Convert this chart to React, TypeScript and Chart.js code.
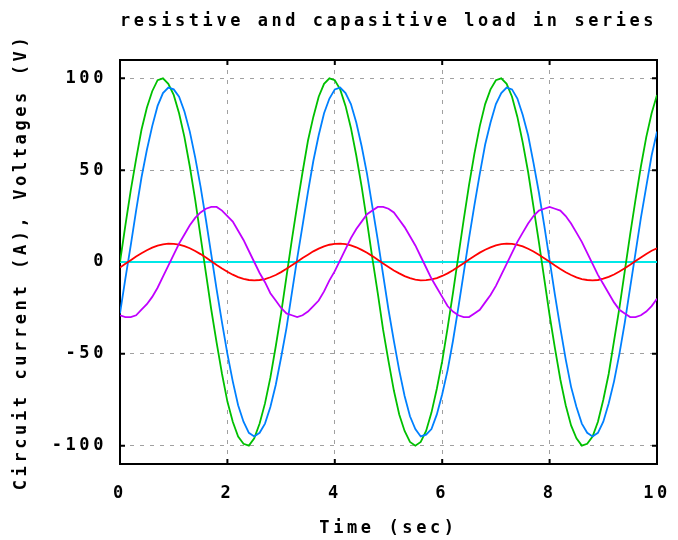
import React, { useEffect, useRef } from "react";
import { Chart, registerables } from "chart.js";

Chart.register(...registerables);

const titleText = "resistive and capasitive load in series";
const xTitle = "Time (sec)";
const yTitle = "Circuit current (A), Voltages (V)";

const xTicks = [0, 2, 4, 6, 8, 10];
const yTicks = [-100, -50, 0, 50, 100];

const times = [
  0, 0.1, 0.2, 0.3, 0.4, 0.5, 0.6, 0.7, 0.8, 0.9,
  1, 1.1, 1.2, 1.3, 1.4, 1.5, 1.6, 1.7, 1.8, 1.9,
  2, 2.1, 2.2, 2.3, 2.4, 2.5, 2.6, 2.7, 2.8, 2.9,
  3, 3.1, 3.2, 3.3, 3.4, 3.5, 3.6, 3.7, 3.8, 3.9,
  4, 4.1, 4.2, 4.3, 4.4, 4.5, 4.6, 4.7, 4.8, 4.9,
  5, 5.1, 5.2, 5.3, 5.4, 5.5, 5.6, 5.7, 5.8, 5.9,
  6, 6.1, 6.2, 6.3, 6.4, 6.5, 6.6, 6.7, 6.8, 6.9,
  7, 7.1, 7.2, 7.3, 7.4, 7.5, 7.6, 7.7, 7.8, 7.9,
  8, 8.1, 8.2, 8.3, 8.4, 8.5, 8.6, 8.7, 8.8, 8.9,
  9, 9.1, 9.2, 9.3, 9.4, 9.5, 9.6, 9.7, 9.8, 9.9,
  10,
];

// source voltage (green)
const sourceVoltage = [
  0, 20, 39, 56, 72, 84, 93, 99, 100, 97,
  91, 81, 68, 52, 34, 14, -6, -26, -44, -61,
  -76, -87, -95, -99, -100, -96, -88, -77, -63, -46,
  -28, -8, 12, 31, 49, 66, 79, 90, 97, 100,
  99, 94, 85, 73, 58, 41, 22, 2, -17, -37,
  -54, -70, -83, -92, -98, -100, -98, -92, -82, -69,
  -54, -36, -17, 3, 23, 42, 59, 74, 86, 94,
  99, 100, 97, 90, 79, 65, 49, 30, 11, -9,
  -29, -47, -64, -78, -89, -96, -100, -99, -95, -87,
  -75, -61, -43, -25, -5, 15, 34, 52, 68, 81,
  91,
];

// resistor voltage (blue)
const resistorVoltage = [
  -28, -9, 9, 28, 46, 61, 74, 85, 92, 95,
  94, 90, 82, 71, 57, 41, 23, 4, -15, -33,
  -50, -65, -78, -87, -93, -95, -93, -88, -79, -67,
  -52, -36, -17, 2, 20, 38, 55, 69, 81, 89,
  94, 95, 92, 86, 76, 63, 48, 30, 12, -7,
  -26, -43, -59, -73, -84, -91, -95, -94, -91, -83,
  -72, -59, -43, -25, -6, 13, 31, 48, 64, 76,
  86, 92, 95, 94, 89, 80, 69, 54, 38, 20,
  1, -18, -36, -53, -68, -79, -88, -93, -95, -93,
  -87, -77, -65, -50, -33, -14, 5, 24, 41, 58,
  71,
];

// capacitor voltage (magenta)
const capacitorVoltage = [
  -29, -30, -30, -29, -26, -23, -19, -14, -8, -2,
  4, 10, 15, 20, 24, 27, 29, 30, 30, 28,
  25, 22, 17, 12, 6, 0, -6, -11, -17, -21,
  -25, -28, -29, -30, -29, -27, -24, -21, -16, -10,
  -5, 1, 7, 13, 18, 22, 26, 28, 30, 30,
  29, 27, 23, 19, 14, 9, 3, -3, -9, -14,
  -19, -24, -27, -29, -30, -30, -28, -26, -22, -18,
  -13, -7, -1, 5, 11, 16, 21, 25, 28, 29,
  30, 29, 28, 25, 21, 16, 11, 5, -1, -7,
  -12, -17, -22, -26, -28, -30, -30, -29, -27, -24,
  -20,
];

// circuit current (red)
const circuitCurrent = [
  -3.0, -1.0, 1.0, 3.0, 4.8, 6.4, 7.8, 8.9, 9.6, 10.0,
  9.9, 9.5, 8.6, 7.5, 6.0, 4.3, 2.4, 0.4, -1.6, -3.5,
  -5.3, -6.9, -8.2, -9.2, -9.8, -10.0, -9.8, -9.3, -8.3, -7.1,
  -5.5, -3.7, -1.8, 0.2, 2.2, 4.0, 5.8, 7.3, 8.5, 9.4,
  9.9, 10.0, 9.7, 9.0, 8.0, 6.6, 5.0, 3.2, 1.2, -0.8,
  -2.7, -4.6, -6.2, -7.7, -8.8, -9.6, -10.0, -9.9, -9.5, -8.8,
  -7.6, -6.2, -4.5, -2.6, -0.7, 1.3, 3.3, 5.1, 6.7, 8.0,
  9.1, 9.7, 10.0, 9.9, 9.3, 8.5, 7.2, 5.7, 4.0, 2.1,
  0.1, -1.9, -3.8, -5.6, -7.1, -8.4, -9.3, -9.8, -10.0, -9.8,
  -9.1, -8.1, -6.8, -5.2, -3.4, -1.5, 0.5, 2.5, 4.4, 6.1,
  7.5,
];

// zero reference (cyan)
const zeroTimes = [0, 10];
const zeroLine = [0, 0];

const FONT = "'DejaVu Sans Mono', monospace";
const SPACING = "3.6px";

const spacingPlugin = {
  id: "spacing",
  beforeLayout(chart: any) {
    chart.ctx.letterSpacing = SPACING;
  },
  beforeDraw(chart: any) {
    chart.ctx.letterSpacing = SPACING;
  },
};

const framePlugin = {
  id: "frame",
  beforeDatasetsDraw(chart: any) {
    const { ctx, chartArea: a, scales } = chart;
    ctx.save();
    ctx.setLineDash([]);
    ctx.strokeStyle = "#000";
    ctx.lineWidth = 2;
    ctx.strokeRect(a.left, a.top, a.right - a.left, a.bottom - a.top);
    ctx.beginPath();
    const len = 5;
    xTicks.forEach((v) => {
      const px = scales.x.getPixelForValue(v);
      ctx.moveTo(px, a.bottom);
      ctx.lineTo(px, a.bottom - len);
      ctx.moveTo(px, a.top);
      ctx.lineTo(px, a.top + len);
    });
    yTicks.forEach((v) => {
      const py = scales.y.getPixelForValue(v);
      ctx.moveTo(a.left, py);
      ctx.lineTo(a.left + len, py);
      ctx.moveTo(a.right, py);
      ctx.lineTo(a.right - len, py);
    });
    ctx.stroke();
    ctx.restore();
  },
};

function pts(xs: number[], ys: number[]) {
  return xs.map((x, i) => ({ x, y: ys[i] }));
}

export default function App() {
  const ref = useRef<HTMLCanvasElement | null>(null);

  useEffect(() => {
    if (!ref.current) return;
    const line = (data: any[], color: string) => ({
      data,
      borderColor: color,
      backgroundColor: color,
      borderWidth: 1.8,
      pointRadius: 0,
      tension: 0,
      fill: false,
    });
    const font = { family: FONT, size: 17, weight: "bold" };
    const chart = new Chart(ref.current, {
      type: "line",
      data: {
        datasets: [
          line(pts(times, capacitorVoltage), "#c000ff"),
          line(pts(times, circuitCurrent), "#ff0000"),
          line(pts(times, resistorVoltage), "#0080ff"),
          line(pts(times, sourceVoltage), "#00c000"),
          line(pts(zeroTimes, zeroLine), "#00e8e8"),
        ],
      },
      options: {
        animation: false,
        responsive: false,
        events: [],
        layout: { padding: { left: 0, right: 21, top: 0, bottom: 0 } },
        plugins: {
          legend: { display: false },
          tooltip: { enabled: false },
          title: {
            display: true,
            text: titleText,
            fullSize: false,
            color: "#000",
            font,
            padding: { top: 11.8, bottom: 27.8 },
          },
        },
        scales: {
          x: {
            type: "linear",
            min: 0,
            max: 10,
            afterBuildTicks: (s: any) => {
              s.ticks = xTicks.map((v) => ({ value: v }));
            },
            afterFit: (s: any) => {
              s.height = 76;
              s.paddingLeft = 0;
              s.paddingRight = 0;
            },
            grid: { color: "#a0a0a0", lineWidth: 1, drawTicks: false },
            border: { display: false, dash: [4, 6] },
            ticks: {
              color: "#000",
              padding: 19.8,
              maxRotation: 0,
              font,
            },
            title: {
              display: true,
              text: xTitle,
              color: "#000",
              font,
              padding: { top: 0, bottom: 1 },
            },
          },
          y: {
            type: "linear",
            min: -110,
            max: 110,
            afterBuildTicks: (s: any) => {
              s.ticks = yTicks.map((v) => ({ value: v }));
            },
            afterFit: (s: any) => {
              s.width = 120;
              s.paddingTop = 0;
              s.paddingBottom = 0;
            },
            grid: { color: "#a0a0a0", lineWidth: 1, drawTicks: false },
            border: { display: false, dash: [4, 6] },
            ticks: {
              color: "#000",
              padding: 13,
              font,
            },
            title: {
              display: true,
              text: yTitle,
              color: "#000",
              font,
              padding: { top: 11.8, bottom: 0 },
            },
          },
        },
      },
      plugins: [spacingPlugin, framePlugin],
    } as any);
    return () => chart.destroy();
  }, []);

  return (
    <div style={{ position: "fixed", left: 0, top: 0, width: 678, height: 540, background: "#fff" }}>
      <canvas ref={ref} width={678} height={540} style={{ display: "block" }} />
    </div>
  );
}
